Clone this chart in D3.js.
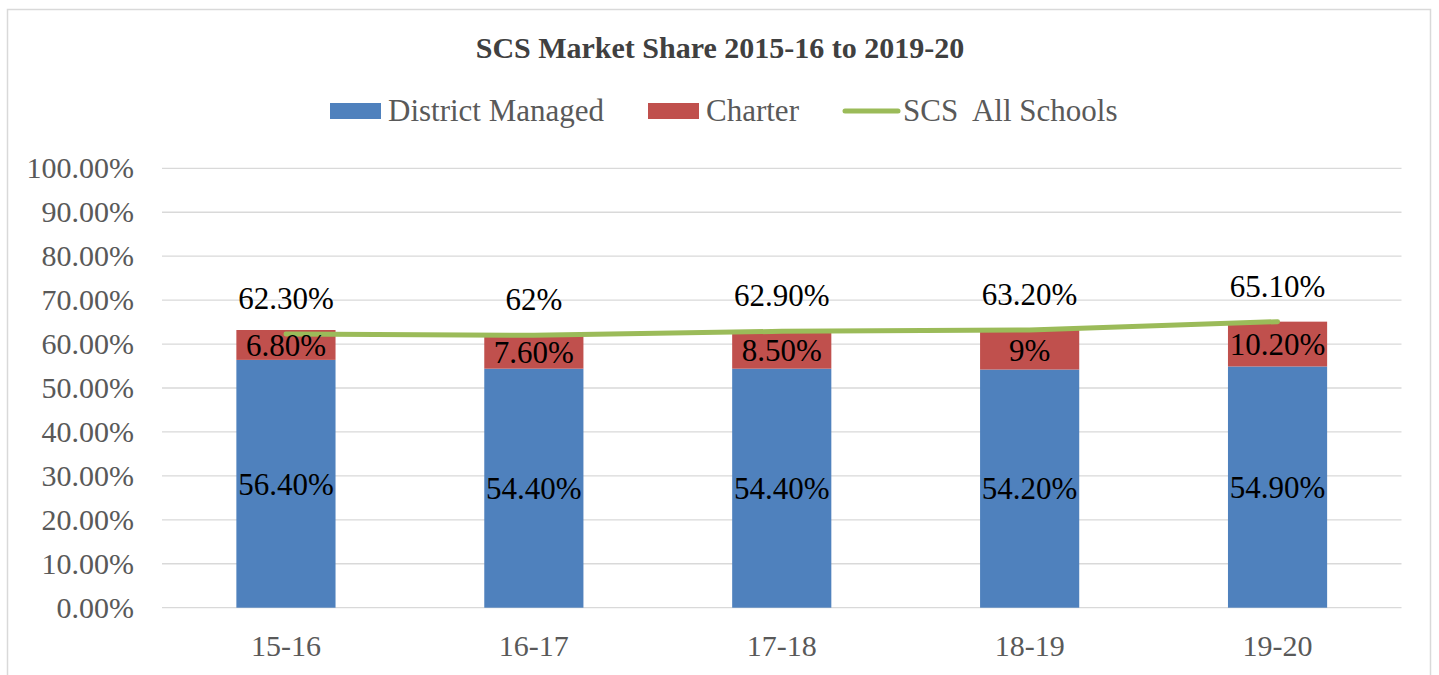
<!DOCTYPE html>
<html>
<head>
<meta charset="utf-8">
<script src="https://cdn.jsdelivr.net/npm/d3@7"></script>
<style>
  html, body { margin: 0; padding: 0; background: #fff; }
  svg { display: block; }
  text { font-family: "Liberation Serif", "DejaVu Serif", serif; }
</style>
</head>
<body>
<svg id="chart" width="1439" height="675"></svg>
<script>
const categories = ["15-16", "16-17", "17-18", "18-19", "19-20"];
const districtManaged = [56.4, 54.4, 54.4, 54.2, 54.9];
const charter = [6.8, 7.6, 8.5, 9, 10.2];
const allSchools = [62.3, 62, 62.9, 63.2, 65.1];
const districtLabels = ["56.40%", "54.40%", "54.40%", "54.20%", "54.90%"];
const charterLabels = ["6.80%", "7.60%", "8.50%", "9%", "10.20%"];
const allLabels = ["62.30%", "62%", "62.90%", "63.20%", "65.10%"];
const yTicks = [0, 10, 20, 30, 40, 50, 60, 70, 80, 90, 100];
const title = "SCS Market Share 2015-16 to 2019-20";
const seriesNames = ["District Managed", "Charter", "SCS  All Schools"];

const colors = { district: "#4F81BD", charter: "#C0504D", line: "#9BBB59" };

const svg = d3.select("#chart");

// chart border
svg.append("rect")
  .attr("x", 7.5).attr("y", 9.5)
  .attr("width", 1423).attr("height", 680)
  .attr("fill", "#fff").attr("stroke", "#d9d9d9").attr("stroke-width", 1.5);

const plotLeft = 162, plotRight = 1401.5, plotTop = 168.3, plotBottom = 607.7;

const x = d3.scaleBand().domain(categories).range([plotLeft, plotRight])
  .paddingInner(0.6).paddingOuter(0.3);
const y = d3.scaleLinear().domain([0, 100]).range([plotBottom, plotTop]);

// gridlines
svg.append("g").selectAll("line").data(yTicks).join("line")
  .attr("x1", plotLeft).attr("x2", plotRight)
  .attr("y1", d => y(d)).attr("y2", d => y(d))
  .attr("stroke", "#d9d9d9").attr("stroke-width", 1.3);

// y axis
const yAxis = d3.axisLeft(y).tickValues(yTicks).tickSize(0).tickPadding(0)
  .tickFormat(d => d.toFixed(2) + "%");
const gy = svg.append("g").attr("transform", `translate(${134},0)`).call(yAxis);
gy.select(".domain").remove();
gy.selectAll("text").attr("font-size", 30).attr("fill", "#595959")
  .attr("dy", "0.32em");

// x axis
const xAxis = d3.axisBottom(x).tickSize(0).tickPadding(0);
const gx = svg.append("g").attr("transform", `translate(0,${plotBottom})`).call(xAxis);
gx.select(".domain").remove();
gx.selectAll("text").attr("font-size", 30).attr("fill", "#595959")
  .attr("dy", "0").attr("y", 48);

// bars
const bars = svg.append("g");
bars.selectAll("rect.dm").data(categories).join("rect").attr("class", "dm")
  .attr("x", d => x(d)).attr("width", x.bandwidth())
  .attr("y", (d, i) => y(districtManaged[i]))
  .attr("height", (d, i) => y(0) - y(districtManaged[i]))
  .attr("fill", colors.district);
bars.selectAll("rect.ch").data(categories).join("rect").attr("class", "ch")
  .attr("x", d => x(d)).attr("width", x.bandwidth())
  .attr("y", (d, i) => y(districtManaged[i] + charter[i]))
  .attr("height", (d, i) => y(districtManaged[i]) - y(districtManaged[i] + charter[i]))
  .attr("fill", colors.charter);

// line
const line = d3.line()
  .x((d, i) => x(categories[i]) + x.bandwidth() / 2)
  .y(d => y(d));
svg.append("path").datum(allSchools)
  .attr("d", line).attr("fill", "none")
  .attr("stroke", colors.line).attr("stroke-width", 5)
  .attr("stroke-linecap", "round").attr("stroke-linejoin", "round");

// data labels
const lbl = svg.append("g").attr("font-size", 31).attr("fill", "#000")
  .attr("text-anchor", "middle");
lbl.selectAll("text.dm").data(categories).join("text").attr("class", "dm")
  .attr("x", d => x(d) + x.bandwidth() / 2)
  .attr("y", (d, i) => (y(0) + y(districtManaged[i])) / 2)
  .attr("dy", "0.35em").text((d, i) => districtLabels[i]);
lbl.selectAll("text.ch").data(categories).join("text").attr("class", "ch")
  .attr("x", d => x(d) + x.bandwidth() / 2)
  .attr("y", (d, i) => (y(districtManaged[i]) + y(districtManaged[i] + charter[i])) / 2)
  .attr("dy", "0.35em").text((d, i) => charterLabels[i]);
lbl.selectAll("text.all").data(categories).join("text").attr("class", "all")
  .attr("x", d => x(d) + x.bandwidth() / 2)
  .attr("y", (d, i) => y(allSchools[i]) - 36)
  .attr("dy", "0.35em").text((d, i) => allLabels[i]);

// title
svg.append("text").attr("x", 720).attr("y", 47).attr("dy", "0.35em")
  .attr("text-anchor", "middle").attr("font-size", 30).attr("font-weight", "bold")
  .attr("fill", "#404040").text(title);

// legend
const lg = svg.append("g").attr("font-size", 31).attr("fill", "#595959");
lg.append("rect").attr("x", 330).attr("y", 103).attr("width", 51).attr("height", 16).attr("fill", colors.district);
lg.append("text").attr("x", 388).attr("y", 110).attr("dy", "0.35em").text(seriesNames[0]);
lg.append("rect").attr("x", 648).attr("y", 103).attr("width", 51).attr("height", 16).attr("fill", colors.charter);
lg.append("text").attr("x", 706).attr("y", 110).attr("dy", "0.35em").text(seriesNames[1]);
lg.append("line").attr("x1", 845).attr("x2", 898).attr("y1", 111).attr("y2", 111)
  .attr("stroke", colors.line).attr("stroke-width", 5).attr("stroke-linecap", "round");
lg.append("text").attr("x", 903).attr("y", 110).attr("dy", "0.35em")
  .style("white-space", "pre").text(seriesNames[2]);
</script>
</body>
</html>
